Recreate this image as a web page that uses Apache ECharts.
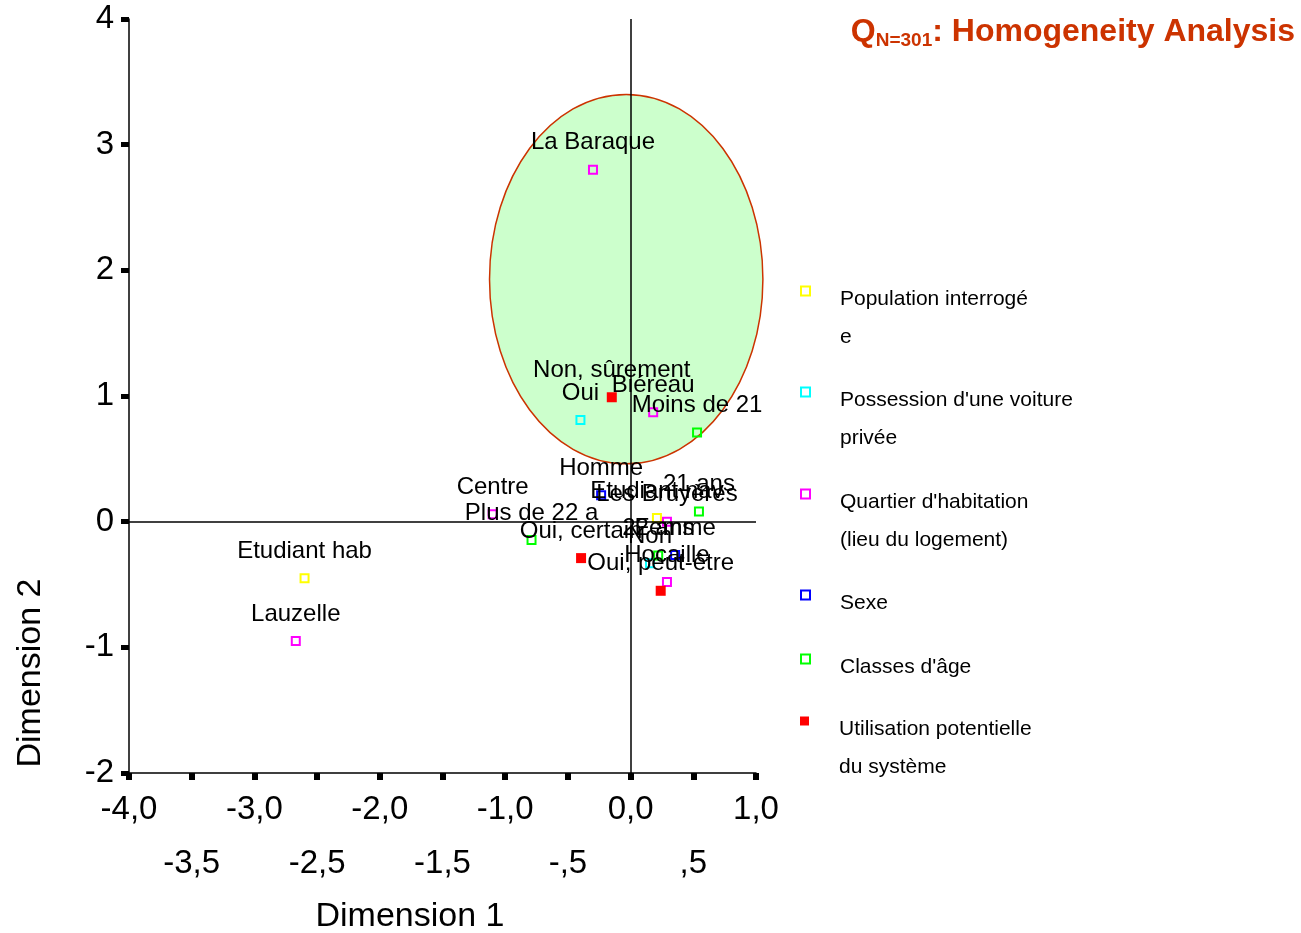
<!DOCTYPE html>
<html>
<head>
<meta charset="utf-8">
<title>Homogeneity Analysis</title>
<script src="https://cdn.jsdelivr.net/npm/echarts@6/dist/echarts.min.js"></script>
<style>
  html, body { margin: 0; padding: 0; background: #fff; }
  #chart-main { width: 1301px; height: 933px; }
</style>
</head>
<body>
<div id="chart-main"></div>
<script>
// libellés des axes
const xMajorLabels = ['-4,0', '-3,0', '-2,0', '-1,0', '0,0', '1,0'];
const xMinorLabels = ['-3,5', '-2,5', '-1,5', '-,5', ',5'];
const yTickLabels = ['-2', '-1', '0', '1', '2', '3', '4'];

// [dimension 1, dimension 2, modalité]
const population = [[-2.60, -0.45, 'Etudiant hab'], [0.21, 0.03, 'Etudiant nav']];
const voiture = [[-0.40, 0.81, 'Oui'], [0.155, -0.33, 'Non']];
const quartier = [
  [-0.30, 2.80, 'La Baraque'],
  [0.18, 0.87, 'Biéreau'],
  [-1.10, 0.06, 'Centre'],
  [-2.67, -0.95, 'Lauzelle'],
  [0.29, 0.0, 'Les Bruyères'],
  [0.29, -0.48, 'Hocaille']
];
const sexe = [[-0.235, 0.21, 'Homme'], [0.355, -0.265, 'Femme']];
const age = [[0.53, 0.71, 'Moins de 21'], [0.545, 0.08, '21 ans'], [0.22, -0.27, '22 ans'], [-0.79, -0.145, 'Plus de 22 a']];
const utilisation = [[-0.15, 0.99, 'Non, sûrement'], [-0.395, -0.29, 'Oui, certain'], [0.24, -0.55, 'Oui, peut-être']];

// ellipse : centre x, centre y, rayon x, rayon y
const ellipse = [-0.035, 1.93, 1.09, 1.47];

const seriesNames = [
  'Population interrogée',
  "Possession d'une voiture privée",
  "Quartier d'habitation (lieu du logement)",
  'Sexe',
  "Classes d'âge",
  'Utilisation potentielle du système'
];
const legendLines = [
  ['Population interrogé', 'e'],
  ["Possession d'une voiture", 'privée'],
  ["Quartier d'habitation", '(lieu du logement)'],
  ['Sexe'],
  ["Classes d'âge"],
  ['Utilisation potentielle', 'du système']
];
const seriesData = [population, voiture, quartier, sexe, age, utilisation];
const colors = ['#ffff00', '#00ffff', '#ff00ff', '#0000ff', '#00ff00', '#ff0000'];

const font = 'Arial, "Liberation Sans", sans-serif';

let myChart = echarts.init(document.getElementById('chart-main'));

function itemStyleFor(i) {
  // la dernière variable est en carrés pleins
  if (i === 5) return { color: colors[i], opacity: 1 };
  return { color: 'transparent', borderColor: colors[i], borderWidth: 2, opacity: 1 };
}

let series = seriesNames.map(function (name, i) {
  return {
    name: name,
    type: 'scatter',
    data: seriesData[i],
    symbol: 'rect',
    symbolSize: i === 5 ? 10 : 8,
    itemStyle: itemStyleFor(i),
    z: 3,
    label: {
      show: true,
      position: 'top',
      distance: 10,
      color: '#000',
      opacity: 1,
      textBorderWidth: 0,
      fontFamily: font,
      fontSize: 24,
      formatter: function (p) { return p.data[2]; }
    },
    emphasis: { disabled: true }
  };
});

series.unshift({
  type: 'custom',
  silent: true,
  z: 1,
  data: [ellipse],
  renderItem: function (params, api) {
    const c = api.coord([api.value(0), api.value(1)]);
    const s = api.size([api.value(2), api.value(3)]);
    return {
      type: 'ellipse',
      shape: { cx: c[0], cy: c[1], rx: s[0], ry: s[1] },
      style: { fill: '#ccffcc', stroke: '#cc3300', lineWidth: 1.5 }
    };
  },
  markLine: {
    silent: true,
    symbol: 'none',
    label: { show: false },
    lineStyle: { color: '#000', width: 1.5, type: 'solid' },
    data: [{ xAxis: 0 }, { yAxis: 0 }]
  }
});

// une légende par variable pour garder l'espacement de l'original
// (ligne vide en tête pour aligner le carré sur la première ligne)
const legendTops = [248, 349, 451, 571, 635, 678];
let legends = seriesNames.map(function (name, i) {
  const lines = legendLines[i];
  return {
    data: [{ name: name, itemStyle: itemStyleFor(i) }],
    left: 800,
    top: legendTops[i],
    padding: 0,
    icon: 'rect',
    itemWidth: 9,
    itemHeight: 9,
    selectedMode: false,
    formatter: function () {
      const body = lines.map(function (l) { return '{t|' + l + '}'; }).join('\n');
      return (lines.length > 1 ? '{p|\u00a0}\n' : '{q|\u00a0}\n') + body;
    },
    textStyle: {
      padding: [0, 0, 0, 25],
      rich: {
        p: { fontSize: 10, lineHeight: 54 },
        q: { fontSize: 10, lineHeight: 16 },
        t: { color: '#000', fontFamily: font, fontSize: 21, lineHeight: 38 }
      }
    }
  };
});

let option = {
  backgroundColor: '#fff',
  animation: false,
  title: {
    right: 6,
    top: 14,
    padding: 0,
    text: '{q|Q}{s|N=301}{t|: Homogeneity Analysis}',
    textStyle: {
      rich: {
        q: { fontFamily: font, fontSize: 32, fontWeight: 'bold', color: '#cc3300', lineHeight: 36 },
        s: { fontFamily: font, fontSize: 19, fontWeight: 'bold', color: '#cc3300', lineHeight: 14, verticalAlign: 'bottom' },
        t: { fontFamily: font, fontSize: 32, fontWeight: 'bold', color: '#cc3300', lineHeight: 36 }
      }
    }
  },
  legend: legends,
  grid: { left: 129, right: 545, top: 19, bottom: 160 },
  xAxis: {
    type: 'value',
    min: -4,
    max: 1,
    interval: 0.5,
    splitLine: { show: false },
    axisLine: { onZero: false, lineStyle: { color: '#000', width: 1.5 } },
    axisTick: { length: 7, lineStyle: { color: '#000', width: 6 } },
    axisLabel: {
      margin: 18,
      formatter: function (value) {
        const idx = Math.round((value + 4) * 2);
        if (idx % 2 === 0) return '{a|' + xMajorLabels[idx / 2] + '}';
        return '{b|' + xMinorLabels[(idx - 1) / 2] + '}';
      },
      rich: {
        a: { fontFamily: font, fontSize: 33, color: '#000', lineHeight: 38 },
        b: { fontFamily: font, fontSize: 33, color: '#000', lineHeight: 38, padding: [108, 0, 0, 0] }
      }
    }
  },
  yAxis: {
    type: 'value',
    min: -2,
    max: 4,
    interval: 1,
    splitLine: { show: false },
    axisLine: { show: true, onZero: false, lineStyle: { color: '#000', width: 1.5 } },
    axisTick: { show: true, length: 8, lineStyle: { color: '#000', width: 5 } },
    axisLabel: {
      margin: 15,
      color: '#000',
      fontFamily: font,
      fontSize: 33,
      formatter: function (value) { return yTickLabels[Math.round(value) + 2]; }
    }
  },
  graphic: [
    {
      type: 'text',
      x: 410,
      y: 917,
      style: { text: 'Dimension 1', fontFamily: font, fontSize: 34, fill: '#000', align: 'center', verticalAlign: 'middle' }
    },
    {
      type: 'text',
      x: 31,
      y: 673,
      rotation: Math.PI / 2,
      style: { text: 'Dimension 2', fontFamily: font, fontSize: 34, fill: '#000', align: 'center', verticalAlign: 'middle' }
    }
  ],
  series: series
};

myChart.setOption(option);
</script>
</body>
</html>
